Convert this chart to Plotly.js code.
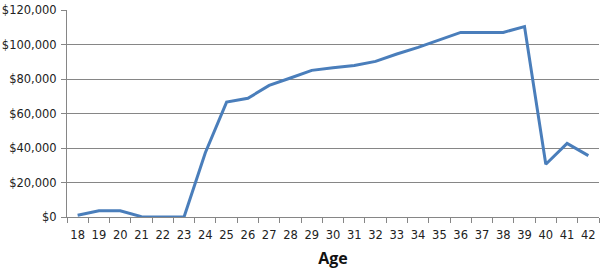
<!DOCTYPE html>
<html>
<head>
<meta charset="utf-8">
<script src="https://cdn.plot.ly/plotly-3.0.1.min.js"></script>
<style>html,body{margin:0;padding:0;background:#fff;}#chart{width:600px;height:277px;}</style>
</head>
<body>
<div id="chart"></div>
<script>
const ages = ['18','19','20','21','22','23','24','25','26','27','28','29','30','31','32','33','34','35','36','37','38','39','40','41','42'];
const values = [1000,3600,3600,200,0,0,37300,66600,68800,76300,80600,85000,86500,87800,90200,94500,98300,102500,107000,107000,107000,110400,30600,42700,35600];
const yTicks = [0,20000,40000,60000,80000,100000,120000];
const yTickText = ['$0','$20,000','$40,000','$60,000','$80,000','$100,000','$120,000'];

const trace = {
  x: ages, y: values, type: 'scatter', mode: 'lines',
  line: {color: '#4a7ebb', width: 3},
  hoverinfo: 'none'
};
const layout = {
  width: 600, height: 277,
  margin: {l: 67, r: 1, t: 10, b: 60},
  paper_bgcolor: '#fff', plot_bgcolor: '#fff',
  showlegend: false,
  font: {family: 'DejaVu Sans, Verdana, sans-serif', size: 11.5, color: '#222'},
  xaxis: {
    type: 'category', range: [-0.5, 24.5],
    tickson: 'boundaries', ticks: 'outside', ticklen: 5, tickcolor: '#868686',
    tickangle: 0, ticklabelstandoff: 7,
    showline: true, linecolor: '#868686', linewidth: 1,
    showgrid: false, zeroline: false,
    tickfont: {size: 11.5, color: '#222'},
    title: {text: 'Age', font: {size: 16, color: '#111', family: 'Open Sans, sans-serif', weight: 'bold'}, standoff: 12}
  },
  yaxis: {
    range: [0, 120000], tickmode: 'array', tickvals: yTicks, ticktext: yTickText,
    ticks: 'outside', ticklen: 5, tickcolor: '#868686',
    showline: true, linecolor: '#868686', linewidth: 1,
    showgrid: true, gridcolor: '#868686', gridwidth: 1,
    zeroline: false, ticklabelstandoff: 2,
    tickfont: {size: 11.5, color: '#222'}
  }
};
Plotly.newPlot('chart', [trace], layout, {staticPlot: true, displayModeBar: false});
</script>
</body>
</html>
